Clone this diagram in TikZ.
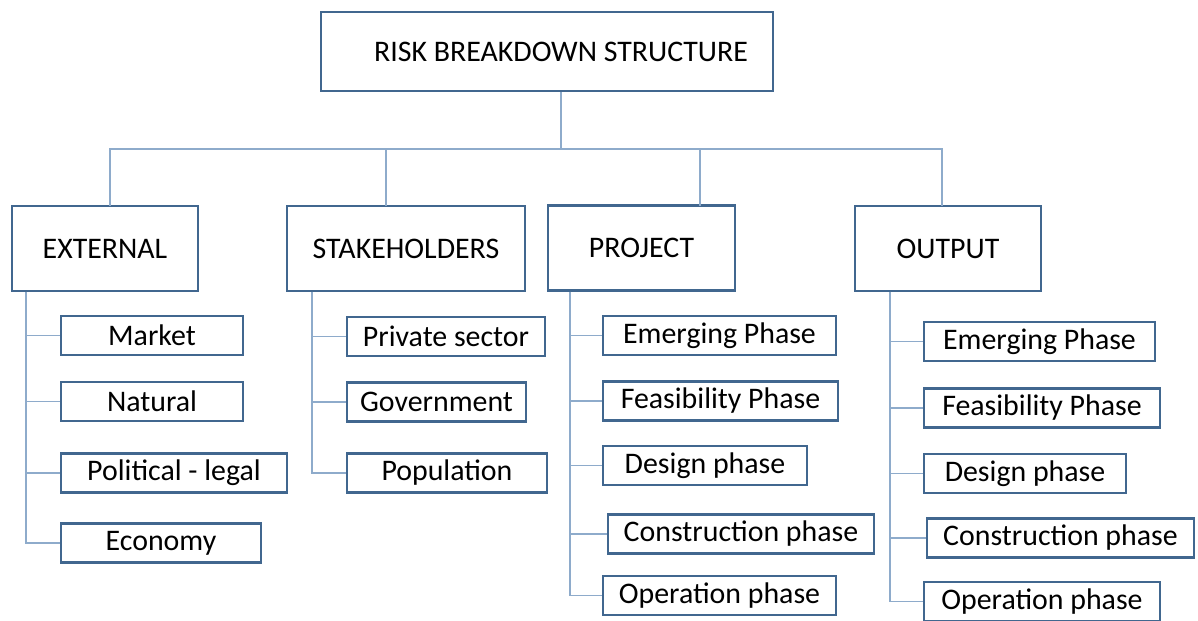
\documentclass[tikz,border=0pt]{standalone}
\usepackage{fontspec}
\setmainfont{Carlito}
\definecolor{boxline}{HTML}{41678F}
\definecolor{linkline}{HTML}{8EABCB}

\begin{document}
\begin{tikzpicture}[x=0.02cm, y=-0.02cm,
    box/.style={draw=boxline, line width=1.6pt, fill=white, inner sep=0pt,
        font=\fontsize{17}{20}\selectfont},
    head/.style={box, minimum height=1.70cm},
    leaf/.style={box, minimum height=0.78cm},
    link/.style={draw=linkline, line width=1.1pt}]
    \useasboundingbox (0, 0) rectangle (1198, 621);

    % top of the tree
    \node[box, minimum width=9.04cm, minimum height=1.58cm] (rbs) at (547, 51.5) {\hspace{0.56cm}RISK BREAKDOWN STRUCTURE};

    % the four groups
    \node[head, minimum width=3.72cm] (ext) at (105, 248.5) {EXTERNAL};
    \node[head, minimum width=4.76cm] (stk) at (406, 248.5) {STAKEHOLDERS};
    \node[head, minimum width=3.74cm] (prj) at (641.5, 248) {PROJECT};
    \node[head, minimum width=3.72cm] (out) at (948, 248.5) {OUTPUT};

    \coordinate (dext) at (110, 206);
    \coordinate (dstk) at (386, 206);
    \coordinate (dprj) at (700, 206);
    \coordinate (dout) at (942, 206);
    \draw[link] ([xshift=0.28cm]rbs.south) -- ++(0, 57) -| (dext);
    \draw[link] ([xshift=0.28cm]rbs.south) -- ++(0, 57) -| (dstk);
    \draw[link] ([xshift=0.28cm]rbs.south) -- ++(0, 57) -| (dprj);
    \draw[link] ([xshift=0.28cm]rbs.south) -- ++(0, 57) -| (dout);

    % external
    \node[leaf, minimum width=3.64cm] (mkt) at (152, 335.5) {Market};
    \node[leaf, minimum width=3.64cm] (nat) at (152, 401.5) {Natural};
    \node[leaf, minimum width=4.52cm] (pol) at (174, 473) {Political - legal};
    \node[leaf, minimum width=4.00cm] (eco) at (161, 543) {Economy};
    \coordinate (sext) at (26, 292);
    \foreach \c in {mkt, nat, pol, eco}
        \draw[link] (sext) |- (\c.west);

    % stakeholders
    \node[leaf, minimum width=3.96cm] (pri) at (446, 336.5) {Private sector};
    \node[leaf, minimum width=3.58cm] (gov) at (436.5, 402) {Government};
    \node[leaf, minimum width=4.00cm] (pop) at (447, 473) {Population};
    \coordinate (sstk) at (312, 292);
    \foreach \c in {pri, gov, pop}
        \draw[link] (sstk) |- (\c.west);

    % project
    \node[leaf, minimum width=4.66cm] (pem) at (719.5, 335.5) {Emerging Phase};
    \node[leaf, minimum width=4.70cm] (pfe) at (720.5, 401) {Feasibility Phase};
    \node[leaf, minimum width=4.08cm] (pde) at (705, 465.5) {Design phase};
    \node[leaf, minimum width=5.32cm] (pco) at (741, 534) {Construction phase};
    \node[leaf, minimum width=4.66cm] (pop2) at (719.5, 595.5) {Operation phase};
    \coordinate (sprj) at (570, 292);
    \foreach \c in {pem, pfe, pde, pco, pop2}
        \draw[link] (sprj) |- (\c.west);

    % output
    \node[leaf, minimum width=4.62cm] (oem) at (1039.5, 341.5) {Emerging Phase};
    \node[leaf, minimum width=4.72cm] (ofe) at (1042, 408) {Feasibility Phase};
    \node[leaf, minimum width=4.04cm] (ode) at (1025, 473.5) {Design phase};
    \node[leaf, minimum width=5.34cm] (oco) at (1060.5, 538) {Construction phase};
    \node[leaf, minimum width=4.72cm] (oop) at (1042, 601.5) {Operation phase};
    \coordinate (sout) at (890, 292);
    \foreach \c in {oem, ofe, ode, oco, oop}
        \draw[link] (sout) |- (\c.west);
\end{tikzpicture}
\end{document}
